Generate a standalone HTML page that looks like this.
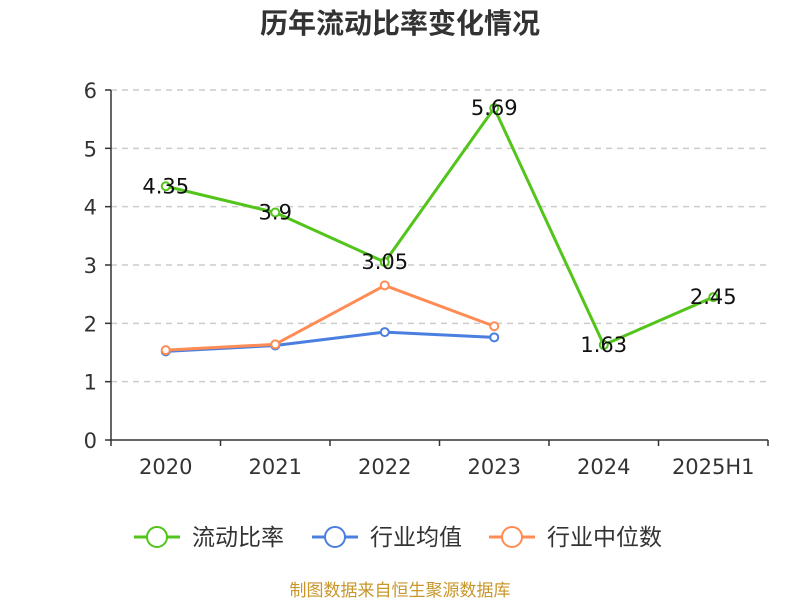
<!DOCTYPE html>
<html><head><meta charset="utf-8"><style>
body{margin:0;background:#fff;font-family:"DejaVu Sans","Noto Sans CJK SC",sans-serif}
</style></head><body>
<svg id="c" width="800" height="600" xmlns="http://www.w3.org/2000/svg" style="font-family:'DejaVu Sans','Noto Sans CJK SC',sans-serif">
<text x="400" y="33" text-anchor="middle" font-size="28" font-weight="bold" fill="#333" font-family="'Noto Sans CJK SC',sans-serif">历年流动比率变化情况</text>
<g id="grid"></g>
<g id="axes"></g>
<g id="series"></g>
<g id="legend"></g>
<text x="400" y="596" text-anchor="middle" font-size="17" fill="#c8962a" font-family="'Noto Sans CJK SC',sans-serif">制图数据来自恒生聚源数据库</text>
</svg>
<script>
const categories=["2020","2021","2022","2023","2024","2025H1"];
const ratioValues=[4.35,3.9,3.05,5.69,1.63,2.45];
const industryAvg=[1.52,1.62,1.85,1.76,null,null];
const industryMedian=[1.54,1.64,2.65,1.95,null,null];
const yTicks=[0,1,2,3,4,5,6];
const seriesNames=["流动比率","行业均值","行业中位数"];
const colors=["#52c41a","#4a7fe0","#ff8c55"];
const NS="http://www.w3.org/2000/svg";
const L=111,R=768,T=90,B=440,yMax=6;
const band=(R-L)/categories.length;
const xs=i=>L+band*(i+0.5);
const ys=v=>B-(v/yMax)*(B-T);
function mk(tag,at,parent,txt){const e=document.createElementNS(NS,tag);for(const k in at)e.setAttribute(k,at[k]);if(txt!=null)e.textContent=txt;parent.appendChild(e);return e;}
const grid=document.getElementById('grid'),axes=document.getElementById('axes'),ser=document.getElementById('series'),leg=document.getElementById('legend');
yTicks.forEach(t=>{
  if(t>0){const g=mk('line',{x1:L,x2:R,y1:ys(t),y2:ys(t),stroke:'#ccc','stroke-dasharray':'6,5','stroke-width':1.5},grid);
  }
  const tk=mk('line',{x1:L-6,x2:L,y1:ys(t),y2:ys(t),stroke:'#333','stroke-width':1.5},axes);
  
  const lb=mk('text',{x:L-14,y:ys(t)+8,'text-anchor':'end','font-size':21,fill:'#333'},axes,t);
  
});
const ya=mk('line',{x1:L,x2:L,y1:T,y2:B,stroke:'#333','stroke-width':1.5},axes);

const xa=mk('line',{x1:L,x2:R,y1:B,y2:B,stroke:'#333','stroke-width':1.5},axes);

for(let i=0;i<=categories.length;i++){
  const tk=mk('line',{x1:L+band*i,x2:L+band*i,y1:B,y2:B+6,stroke:'#333','stroke-width':1.5},axes);
  
}
categories.forEach((c,i)=>{
  const lb=mk('text',{x:xs(i),y:B+34,'text-anchor':'middle','font-size':21,fill:'#333'},axes,c);
  
});
function drawSeries(vals,color,name,labels){
  let d='';vals.forEach((v,i)=>{if(v==null)return;d+=(d?'L':'M')+xs(i)+','+ys(v);});
  const p=mk('path',{d:d,fill:'none',stroke:color,'stroke-width':3,'stroke-linejoin':'round'},ser);
  
  vals.forEach((v,i)=>{if(v==null)return;
    const c=mk('circle',{cx:xs(i),cy:ys(v),r:4,fill:'#fff',stroke:color,'stroke-width':2},ser);
    
    if(labels){const t=mk('text',{x:xs(i),y:ys(v)+7,'text-anchor':'middle','font-size':21,fill:'#111'},ser,v);
      }
  });
}
drawSeries(industryAvg,colors[1],'industry-average',false);
drawSeries(industryMedian,colors[2],'industry-median',false);
drawSeries(ratioValues,colors[0],'current-ratio',true);
const legX=[134,312,489];
seriesNames.forEach((n,i)=>{
  const g=mk('g',{},leg);
  
  mk('line',{x1:legX[i],x2:legX[i]+46,y1:537,y2:537,stroke:colors[i],'stroke-width':3},g);
  mk('circle',{cx:legX[i]+23,cy:537,r:10,fill:'#fff',stroke:colors[i],'stroke-width':2},g);
  mk('text',{x:legX[i]+58,y:545,'font-size':23,fill:'#333','font-family':"'Noto Sans CJK SC',sans-serif"},g,n);
});
</script>
</body></html>
